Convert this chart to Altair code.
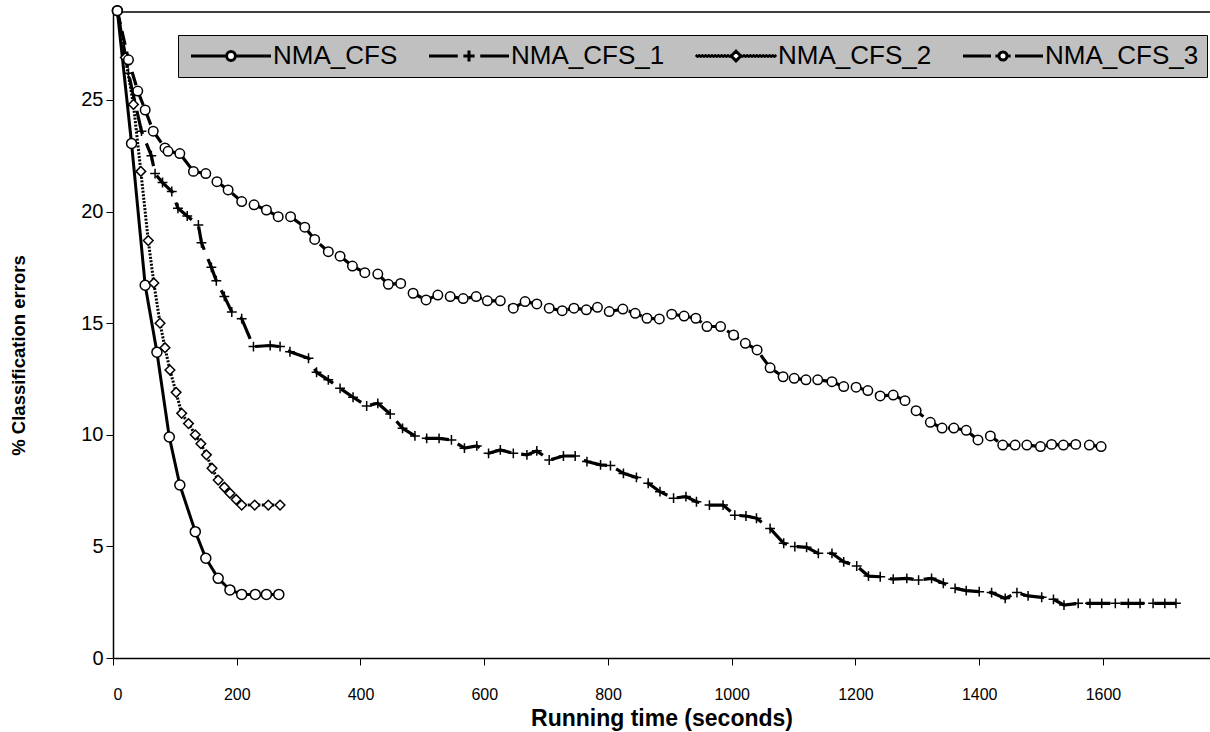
import altair as alt
import pandas as pd

SERIES = ["NMA_CFS", "NMA_CFS_1", "NMA_CFS_2", "NMA_CFS_3"]

cfs_x = [7, 30, 52, 71, 91, 108, 133, 150, 170, 189, 208, 230, 248, 268]
cfs_y = [29.0, 23.05, 16.7, 13.7, 9.9, 7.75, 5.66, 4.47, 3.57, 3.05, 2.85, 2.85, 2.85, 2.85]

cfs1_x = [7, 25, 46, 62, 68, 80, 95, 105, 120, 138, 143, 159, 167, 180, 192, 208, 227, 254, 270, 286,
          316, 329, 348, 367, 388, 410, 428, 448, 468, 488, 507, 527, 547, 568, 588, 607, 626, 647, 669,
          685, 705, 728, 747, 766, 788, 804, 825, 846, 865, 884, 906, 926, 943, 964, 986, 1005, 1023,
          1040, 1062, 1084, 1102, 1121, 1140, 1162, 1181, 1202, 1221, 1240, 1261, 1283, 1302, 1323,
          1342, 1361, 1379, 1400, 1420, 1442, 1461, 1479, 1501, 1520, 1537, 1560, 1579, 1598, 1620,
          1641, 1660, 1681, 1700, 1718]
cfs1_y = [29.0, 26.2, 23.6, 22.5, 21.7, 21.3, 20.9, 20.15, 19.8, 19.4, 18.6, 17.5, 16.9, 16.2, 15.5,
          15.2, 13.95, 14.0, 13.95, 13.72, 13.43, 12.8, 12.46, 12.08, 11.68, 11.29, 11.41, 10.93, 10.29,
          9.95, 9.84, 9.84, 9.77, 9.4, 9.5, 9.17, 9.32, 9.17, 9.1, 9.28, 8.87, 9.05, 9.05, 8.8, 8.65,
          8.62, 8.27, 8.09, 7.83, 7.45, 7.16, 7.23, 7.0, 6.85, 6.85, 6.4, 6.36, 6.26, 5.8, 5.14, 4.99,
          4.96, 4.69, 4.69, 4.31, 4.12, 3.67, 3.64, 3.53, 3.57, 3.49, 3.57, 3.35, 3.12, 3.02, 2.97,
          2.93, 2.67, 2.93, 2.78, 2.72, 2.63, 2.37, 2.45, 2.45, 2.45, 2.45, 2.45, 2.45, 2.45, 2.45, 2.45]

cfs2_x = [7, 20, 33, 45, 57, 66, 76, 84, 92, 102, 111, 122, 133, 142, 151, 160, 170, 180, 189, 199,
          208, 229, 251, 270]
cfs2_y = [29.0, 26.9, 24.8, 21.8, 18.7, 16.8, 15.0, 13.9, 12.9, 11.9, 10.96, 10.5, 10.0, 9.6, 9.1,
          8.5, 7.97, 7.65, 7.38, 7.1, 6.85, 6.85, 6.85, 6.85]

cfs3_x = [7, 25, 40, 52, 65, 84, 89, 108, 130, 150, 168, 186, 208, 228, 248, 267, 287, 310, 326, 348,
          367, 387, 407, 428, 445, 465, 485, 506, 525, 545, 566, 587, 605, 626, 647, 666, 685, 705, 726,
          745, 765, 783, 802, 824, 844, 863, 883, 903, 923, 942, 960, 982, 1003, 1022, 1041, 1062,
          1083, 1101, 1120, 1139, 1162, 1181, 1201, 1220, 1240, 1261, 1280, 1298, 1321, 1340, 1359,
          1379, 1398, 1418, 1438, 1458, 1477, 1499, 1517, 1536, 1556, 1578, 1597]
cfs3_y = [29.0, 26.8, 25.4, 24.55, 23.6, 22.85, 22.7, 22.6, 21.8, 21.7, 21.34, 20.97, 20.45, 20.3,
          20.07, 19.77, 19.77, 19.3, 18.75, 18.2, 18.0, 17.56, 17.26, 17.2, 16.74, 16.78, 16.34, 16.04,
          16.26, 16.19, 16.1, 16.19, 16.0, 16.0, 15.67, 15.97, 15.86, 15.67, 15.56, 15.67, 15.6, 15.71,
          15.52, 15.63, 15.44, 15.22, 15.19, 15.4, 15.32, 15.22, 14.85, 14.85, 14.47, 14.1, 13.8, 13.0,
          12.6, 12.53, 12.46, 12.46, 12.38, 12.16, 12.13, 11.98, 11.74, 11.78, 11.53, 11.08, 10.56,
          10.3, 10.3, 10.2, 9.77, 9.95, 9.54, 9.54, 9.54, 9.47, 9.57, 9.54, 9.57, 9.54, 9.47]

X_TICKS = [0, 200, 400, 600, 800, 1000, 1200, 1400, 1600]
Y_TICKS = [0, 5, 10, 15, 20, 25]

X_TITLE = "Running time (seconds)"
Y_TITLE = "% Classification errors"

rows = []
for name, xs, ys in zip(SERIES, [cfs_x, cfs1_x, cfs2_x, cfs3_x], [cfs_y, cfs1_y, cfs2_y, cfs3_y]):
    for i, (xv, yv) in enumerate(zip(xs, ys)):
        rows.append({"series": name, "time": xv, "err": yv, "order": i})
df = pd.DataFrame(rows)
legend_df = pd.DataFrame({"series": SERIES})

W, H = 1097, 646
FONT = "Liberation Sans"

xscale = alt.Scale(domain=[0, 1773], nice=False, zero=False)
yscale = alt.Scale(domain=[0, 28.94], nice=False)

x_enc = alt.X("time:Q", scale=xscale,
              axis=alt.Axis(values=X_TICKS, title=X_TITLE, grid=False, format="d",
                            labelFont=FONT, labelFontSize=16, labelColor="black", labelPadding=21,
                            tickSize=7, tickColor="black", domainColor="black", domainWidth=1.5,
                            titleFont=FONT, titleFontSize=23, titleFontWeight="bold", titleColor="black",
                            titleY=60, titleBaseline="middle"))
y_enc = alt.Y("err:Q", scale=yscale,
              axis=alt.Axis(values=Y_TICKS, title=Y_TITLE, grid=False,
                            labelFont=FONT, labelFontSize=20, labelColor="black", labelPadding=3,
                            tickSize=7, tickColor="black", domainColor="black", domainWidth=1.5,
                            titleFont=FONT, titleFontSize=18.5, titleFontWeight="bold", titleColor="black",
                            titleX=-95, titleY=343, titleBaseline="middle"))

line_styles = {
    "NMA_CFS": dict(strokeWidth=3, strokeDash=[1, 0]),
    "NMA_CFS_1": dict(strokeWidth=3.2, strokeDash=[24, 10]),
    "NMA_CFS_2": dict(strokeWidth=3, strokeDash=[2, 1.5]),
    "NMA_CFS_3": dict(strokeWidth=3.2, strokeDash=[14, 7]),
}

base = alt.Chart(df)
line_layers = []
for name in SERIES:
    st = line_styles[name]
    line_layers.append(
        base.transform_filter(alt.datum.series == name)
        .mark_line(color="black", clip=False, **st)
        .encode(x=x_enc, y=y_enc, order="order:Q")
    )

PLUS = "M-1,0H1M0,-1V1"
points = base.mark_point(fill="white", stroke="black", strokeWidth=1.5, opacity=1, fillOpacity=1).encode(
    x=x_enc, y=y_enc,
    shape=alt.Shape("series:N", scale=alt.Scale(domain=SERIES, range=["circle", PLUS, "diamond", "circle"]),
                    legend=None),
    size=alt.Size("series:N", scale=alt.Scale(domain=SERIES, range=[100, 90, 90, 110]), legend=None),
)


# legend symbols: line + marker, in units of 8px, symbol centre 9px from entry start
def zigzag(a, b):
    segs = []
    xv = a
    s = 1
    while xv < b - 1e-9:
        x2 = min(xv + 0.2, b)
        segs.append(f"M{xv:.2f},{0.12 * s:.2f}L{x2:.2f},{-0.12 * s:.2f}")
        s = -s
        xv = x2
    return "".join(segs)


LEG_PATHS = [
    "M-1,0H3.45M4.55,0H9M4.55,0A0.55,0.55,0,1,1,3.45,0A0.55,0.55,0,1,1,4.55,0Z",
    "M-1,0H2.6M3.3,0H4.7M4,-0.7V0.7M5.4,0H9",
    zigzag(-1, 3.4) + zigzag(4.6, 9) + "M3.4,0L4,-0.6L4.6,0L4,0.6Z",
    "M-1,0H2.5M3.05,0H3.5M4.5,0H4.95M5.5,0H9M4.5,0A0.5,0.5,0,1,1,3.5,0A0.5,0.5,0,1,1,4.5,0Z",
]

legend_layer = alt.Chart(legend_df).mark_point(
    color="black", fill="white", stroke="black", strokeWidth=3, opacity=1, fillOpacity=1,
    strokeOpacity=1, clip=True
).encode(
    x=alt.value(-300), y=alt.value(-300),
    shape=alt.Shape("series:N", scale=alt.Scale(domain=SERIES, range=LEG_PATHS),
                    legend=alt.Legend(title=None, orient="none", legendX=65, legendY=23,
                                      direction="horizontal", columns=4,
                                      fillColor="#c0c0c0", strokeColor="black", padding=8,
                                      symbolSize=256, symbolStrokeWidth=3, symbolOpacity=1,
                                      labelFont=FONT, labelFontSize=26, labelColor="black",
                                      labelOffset=61, columnPadding=25, labelLimit=400)),
)

top_rule = alt.Chart(legend_df).mark_rule(color="#333333", strokeWidth=1).encode(
    y=alt.value(0), x=alt.value(0), x2=alt.value(W)
)

chart = alt.layer(top_rule, *line_layers, points, legend_layer).resolve_scale(
    shape="independent", size="independent"
).properties(
    width=W, height=H,
    autosize=alt.AutoSizeParams(type="none"),
    padding={"left": 113, "top": 12, "right": 0, "bottom": 74},
    background="white",
).configure_view(stroke=None)

chart.save("out.html", embed_options={"renderer": "svg", "actions": False})
